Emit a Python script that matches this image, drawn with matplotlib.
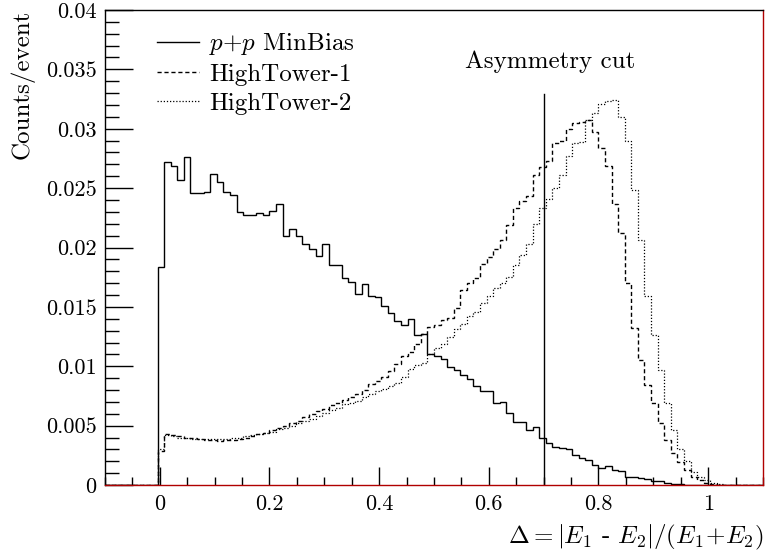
import numpy as np
import matplotlib
matplotlib.use("Agg")
import matplotlib.pyplot as plt
from matplotlib.ticker import MultipleLocator, FuncFormatter

# ROOT-like look: Computer Modern text
plt.rcParams['font.family'] = 'cmr10'
plt.rcParams['mathtext.fontset'] = 'cm'
plt.rcParams['axes.formatter.use_mathtext'] = True

# histogram binning: 100 bins over [-0.1, 1.1]
n_bins = 100
x_lo, x_hi = -0.1, 1.1
first_bin = 8   # first filled bin (edge at -0.004)

# p+p MinBias, counts/event per bin starting at first_bin
minbias = [0.0184, 0.0272, 0.0269, 0.0257, 0.0276, 0.0246, 0.0246, 0.0247, 0.0262, 0.0255,
           0.0247, 0.0244, 0.0230, 0.0227, 0.0227, 0.0229, 0.0227, 0.0231, 0.0237, 0.0210,
           0.0216, 0.0210, 0.0203, 0.0199, 0.0193, 0.0203, 0.0185, 0.0185, 0.0174, 0.0171,
           0.0161, 0.0169, 0.0159, 0.0158, 0.0151, 0.0145, 0.0138, 0.0135, 0.0140, 0.0126,
           0.0127, 0.0110, 0.0109, 0.0106, 0.0099, 0.0097, 0.0093, 0.0089, 0.0083, 0.0079,
           0.0079, 0.0069, 0.0070, 0.0061, 0.0053, 0.0053, 0.0046, 0.0049, 0.0040, 0.0035,
           0.0032, 0.0031, 0.0030, 0.0025, 0.0023, 0.0021, 0.0017, 0.0014, 0.0016, 0.0013,
           0.0012, 0.0007, 0.0007, 0.00056, 0.0005, 0.00036, 0.0003, 0.00014, 0.0001, 0.00005,
           0.00003]

# HighTower-1
hightower1 = [0.0029, 0.0043, 0.0042, 0.0041, 0.0040, 0.0040, 0.0039, 0.0038, 0.0038, 0.0037,
              0.0038, 0.0038, 0.0039, 0.0040, 0.0041, 0.0043, 0.0044, 0.0046, 0.0048, 0.0050,
              0.0052, 0.0054, 0.0057, 0.0060, 0.0062, 0.0064, 0.0067, 0.0069, 0.0072, 0.0074,
              0.0077, 0.0080, 0.0085, 0.0088, 0.0091, 0.0096, 0.0102, 0.0109, 0.0112, 0.0119,
              0.0127, 0.0133, 0.0135, 0.0139, 0.0141, 0.0149, 0.0164, 0.0170, 0.0174, 0.0186,
              0.0192, 0.0199, 0.0206, 0.0219, 0.0233, 0.0239, 0.0243, 0.0261, 0.0268, 0.0273,
              0.0288, 0.0290, 0.0300, 0.0305, 0.0306, 0.0307, 0.0297, 0.0284, 0.0269, 0.0237,
              0.0212, 0.0170, 0.0132, 0.0105, 0.0084, 0.0069, 0.0052, 0.0038, 0.0027, 0.0019,
              0.0013, 0.0007, 0.00045, 0.0002, 0.0001]

# HighTower-2
hightower2 = [0.0030, 0.0042, 0.0041, 0.0040, 0.0040, 0.0039, 0.0039, 0.0039, 0.0039, 0.0039,
              0.0039, 0.0040, 0.0040, 0.0041, 0.0042, 0.0043, 0.0044, 0.0045, 0.0047, 0.0048,
              0.0050, 0.0052, 0.0054, 0.0056, 0.0058, 0.0061, 0.0063, 0.0065, 0.0068, 0.0069,
              0.0071, 0.0074, 0.0077, 0.0079, 0.0081, 0.0083, 0.0086, 0.0091, 0.0098, 0.0101,
              0.0103, 0.0110, 0.0115, 0.0119, 0.0125, 0.0131, 0.0136, 0.0142, 0.0146, 0.0153,
              0.0159, 0.0166, 0.0170, 0.0175, 0.0185, 0.0194, 0.0203, 0.0220, 0.0233, 0.0241,
              0.0250, 0.0261, 0.0277, 0.0288, 0.0289, 0.0307, 0.0313, 0.0321, 0.0323, 0.0324,
              0.0310, 0.0290, 0.0248, 0.0206, 0.0159, 0.0126, 0.0097, 0.0069, 0.0046, 0.0030,
              0.0020, 0.0011, 0.0007, 0.0004, 0.0002, 0.0001]

labels = ['$p$+$p$ MinBias', 'HighTower-1', 'HighTower-2']
cut_value = 0.7
cut_top = 0.0329


def full_hist(vals):
    h = np.zeros(n_bins)
    h[first_bin:first_bin + len(vals)] = vals
    return h


edges = np.linspace(x_lo, x_hi, n_bins + 1)

fig = plt.figure(figsize=(7.66, 5.55), dpi=100)
ax = fig.add_axes([0.137, 0.1261, 0.859, 0.8559])

ax.stairs(full_hist(minbias), edges, color='black', lw=1.0, label=labels[0])
ax.stairs(full_hist(hightower1), edges, color='black', lw=1.0,
          linestyle=(0, (3, 2)), label=labels[1])
ax.stairs(full_hist(hightower2), edges, color='black', lw=0.9,
          linestyle=(0, (1, 1.5)), label=labels[2])

# asymmetry cut
ax.plot([cut_value, cut_value], [0, cut_top], color='black', lw=1.0)
ax.text(0.712, 0.0356, 'Asymmetry cut', ha='center', va='center', fontsize=18)

ax.set_xlim(x_lo, x_hi)
ax.set_ylim(0, 0.04)

ax.xaxis.set_major_locator(MultipleLocator(0.2))
ax.xaxis.set_minor_locator(MultipleLocator(0.05))
ax.yaxis.set_major_locator(MultipleLocator(0.005))
ax.yaxis.set_minor_locator(MultipleLocator(0.001))
fmt = FuncFormatter(lambda v, p: '%g' % round(v, 6))
ax.xaxis.set_major_formatter(fmt)
ax.yaxis.set_major_formatter(fmt)

ax.tick_params(axis='both', which='both', direction='in', top=False, right=False,
               labelsize=16, width=1.0)
ax.tick_params(axis='x', which='major', length=13, pad=7)
ax.tick_params(axis='x', which='minor', length=6)
ax.tick_params(axis='y', which='major', length=20, pad=6)
ax.tick_params(axis='y', which='minor', length=10)

for side in ['left', 'top']:
    ax.spines[side].set_color('black')
for side in ['bottom', 'right']:
    ax.spines[side].set_color('#b00000')
for s in ax.spines.values():
    s.set_linewidth(1.0)

ax.set_ylabel('Counts/event', loc='top', fontsize=18, labelpad=8)
ax.set_xlabel(r'$\Delta = |E_1$ - $E_2|/(E_1\!+\!E_2)$',
              loc='right', fontsize=18, labelpad=6)

ax.legend(loc='upper left', bbox_to_anchor=(0.079, 0.955), frameon=False,
          fontsize=18, handlelength=1.7, handletextpad=0.4, labelspacing=0.25,
          borderaxespad=0.0, borderpad=0.0)

fig.savefig('out.png', dpi=100)
